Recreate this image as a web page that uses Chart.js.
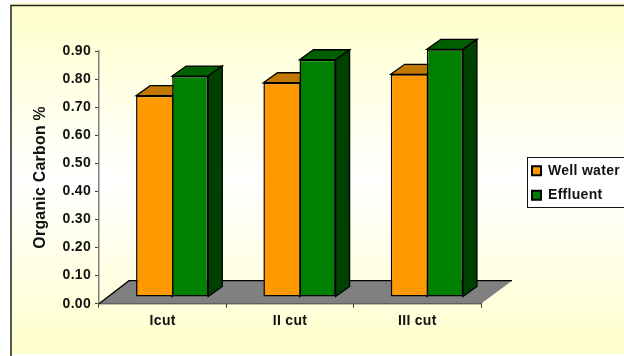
<!DOCTYPE html>
<html>
<head>
<meta charset="utf-8">
<title>Organic Carbon</title>
<script src="https://cdn.jsdelivr.net/npm/chart.js@4"></script>
<style>
    html, body { margin: 0; padding: 0; background: #fff; overflow: hidden; }
    canvas { display: block; }
</style>
</head>
<body>
<canvas id="myChart" width="624" height="356"></canvas>
<script>
const categories = ['Icut', 'II cut', 'III cut'];
const wellWater = [0.717, 0.763, 0.793];
const effluent = [0.787, 0.845, 0.882];

const font = 'Liberation Sans';
const textSpacing = '0.3px';

// how far the bars stand back from the front edge of the floor
const barShiftX = 9.5;
const barShiftY = -6.7;
const depthX = 14;
const depthY = -10;

const orangeFaces = { top: '#c07800', side: '#804f00' };
const greenFaces = { top: '#006000', side: '#004000' };

function drawFace(ctx, points, color) {
    ctx.beginPath();
    ctx.moveTo(points[0][0], points[0][1]);
    for (let i = 1; i < points.length; i++) {
        ctx.lineTo(points[i][0], points[i][1]);
    }
    ctx.closePath();
    ctx.fillStyle = color;
    ctx.fill();
    ctx.stroke();
}

function drawBarDepth(ctx, bar, faces) {
    const left = bar.x - bar.width / 2;
    const right = bar.x + bar.width / 2;
    ctx.strokeStyle = '#000';
    ctx.lineWidth = 1.3;
    drawFace(ctx, [
        [left, bar.y], [left + depthX, bar.y + depthY],
        [right + depthX, bar.y + depthY], [right, bar.y]
    ], faces.top);
    drawFace(ctx, [
        [right, bar.y], [right + depthX, bar.y + depthY],
        [right + depthX, bar.base + depthY], [right, bar.base]
    ], faces.side);
}

const panel3d = {
    id: 'panel3d',
    beforeUpdate(chart) {
        chart.ctx.letterSpacing = textSpacing;
    },
    beforeLayout(chart) {
        // legend keeps a fixed slot so the plot width stays put
        const legend = chart.legend;
        if (!legend._fitWrapped) {
            const fit = legend.fit;
            legend.fit = function () {
                fit.call(this);
                this.width = 143;
            };
            legend._fitWrapped = true;
        }
    },
    afterLayout(chart) {
        const legend = chart.legend;
        legend.left = 521.5;
        legend.right = 624;
        legend.top = 153.2;
        legend.bottom = 300;
    },
    beforeDraw(chart) {
        const ctx = chart.ctx;
        ctx.letterSpacing = textSpacing;
        ctx.save();
        ctx.fillStyle = '#ffffcc';
        ctx.fillRect(10, 3, 614, 3);

        const gradient = ctx.createLinearGradient(0, 5, 0, 354);
        gradient.addColorStop(0, '#ffffcc');
        gradient.addColorStop(0.5, '#ffffff');
        gradient.addColorStop(1, '#ffffcc');
        ctx.fillStyle = gradient;
        ctx.fillRect(11, 5, 613, 349);

        ctx.strokeStyle = '#222';
        ctx.lineWidth = 1.5;
        ctx.beginPath();
        ctx.moveTo(624, 5.5);
        ctx.lineTo(11, 5.5);
        ctx.lineTo(11, 356);
        ctx.stroke();

        // legend box runs off the right side of the canvas
        ctx.fillStyle = '#fff';
        ctx.fillRect(527.5, 157.5, 100, 50);
        ctx.strokeStyle = '#111';
        ctx.lineWidth = 1;
        ctx.strokeRect(527.5, 157.5, 100, 50);
        ctx.restore();
    },
    beforeDatasetsDraw(chart) {
        const ctx = chart.ctx;
        const area = chart.chartArea;
        ctx.save();

        // floor
        ctx.beginPath();
        ctx.moveTo(area.left, area.bottom);
        ctx.lineTo(area.left + 30, area.bottom - 23);
        ctx.lineTo(area.right + 31, area.bottom - 23);
        ctx.lineTo(area.right, area.bottom);
        ctx.closePath();
        ctx.fillStyle = '#808080';
        ctx.fill();
        ctx.strokeStyle = '#000';
        ctx.lineWidth = 1.3;
        ctx.beginPath();
        ctx.moveTo(area.left, area.bottom);
        ctx.lineTo(area.left + 30, area.bottom - 23);
        ctx.lineTo(area.right + 31, area.bottom - 23);
        ctx.stroke();

        ctx.translate(barShiftX, barShiftY);
        chart.getDatasetMeta(0).data.forEach(bar => drawBarDepth(ctx, bar, orangeFaces));
        chart.getDatasetMeta(1).data.forEach(bar => drawBarDepth(ctx, bar, greenFaces));
    },
    afterDatasetsDraw(chart) {
        chart.ctx.restore();
    }
};

const ctx = document.getElementById('myChart').getContext('2d');

const myChart = new Chart(ctx, {
    type: 'bar',
    data: {
        labels: categories,
        datasets: [
            {
                label: 'Well water',
                data: wellWater,
                backgroundColor: '#ff9900',
                borderColor: '#000',
                borderWidth: { left: 1.5, top: 1.5, bottom: 1.5, right: 0 },
                borderSkipped: false,
                clip: false
            },
            {
                label: 'Effluent',
                data: effluent,
                backgroundColor: '#008000',
                borderColor: '#000',
                borderWidth: 1.5,
                borderSkipped: false,
                clip: false
            }
        ]
    },
    options: {
        responsive: false,
        animation: false,
        categoryPercentage: 0.567,
        barPercentage: 1,
        layout: { padding: { top: 51, left: 0, right: 0, bottom: 0 } },
        scales: {
            x: {
                grid: { drawOnChartArea: false, color: '#333', tickLength: 4 },
                border: { color: '#000', width: 1.2 },
                ticks: { color: '#111', padding: 5, font: { family: font, size: 14, weight: 'bold' } },
                afterFit(scale) { scale.height = 52.3; }
            },
            y: {
                min: 0,
                max: 0.9,
                grid: { drawOnChartArea: false, color: '#444', tickLength: 4 },
                border: { color: '#808080', width: 1.5 },
                ticks: {
                    stepSize: 0.1,
                    color: '#111',
                    padding: 4,
                    font: { family: font, size: 14, weight: 'bold' },
                    callback: value => value.toFixed(2)
                },
                title: {
                    display: true,
                    text: 'Organic Carbon %',
                    color: '#111',
                    padding: { top: 31, bottom: 0 },
                    font: { family: font, size: 15.8, weight: 'bold' }
                },
                afterFit(scale) { scale.width = 99; }
            }
        },
        plugins: {
            title: { display: false },
            tooltip: { enabled: false },
            legend: {
                position: 'right',
                align: 'start',
                labels: {
                    color: '#111',
                    boxWidth: 9,
                    boxHeight: 9,
                    padding: 10.5,
                    font: { family: font, size: 14, weight: 'bold' },
                    generateLabels(chart) {
                        const items = Chart.defaults.plugins.legend.labels.generateLabels(chart);
                        items.forEach(item => { item.lineWidth = 2; });
                        return items;
                    }
                }
            }
        }
    },
    plugins: [panel3d]
});
</script>
</body>
</html>
